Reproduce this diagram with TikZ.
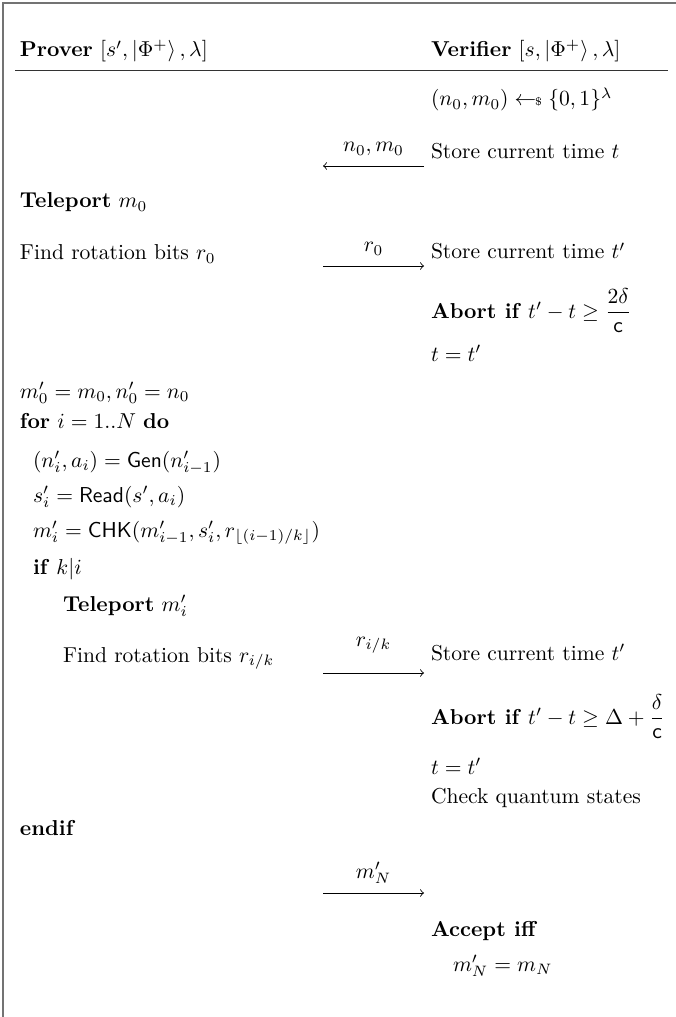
\documentclass[tikz,border=0pt]{standalone}
\usepackage{amsmath}
\begin{document}
\begin{tikzpicture}[x=0.4636pt,y=-0.4636pt,
  txt/.style={anchor=base west,inner sep=0pt,outer sep=0pt},
  lbl/.style={anchor=base,inner sep=0pt,outer sep=0pt},
  msg/.style={-to,line width=0.4pt},
  frame/.style={draw=black!55,line width=0.6pt},
  rulestyle/.style={draw=black!80,line width=0.45pt}]
\useasboundingbox (0,0) rectangle (675,1017);
% frame
\coordinate (fb) at (3,1030);
\coordinate (ftl) at (3,3);
\coordinate (fr) at (690,3);
\draw[frame] (fb) -- (ftl) -- (fr);
% header
\node[txt] (prover) at (20,57) {\textbf{Prover} $[s', \left|\Phi^{+}\right\rangle, \lambda]$};
\node[txt] (verifier) at (431,57) {\textbf{Verifier} $[s, \left|\Phi^{+}\right\rangle, \lambda]$};
\coordinate (rl) at (15,70);
\coordinate (rr) at (668,70);
\draw[rulestyle] (rl) -- (rr);
% verifier sampling
\node[txt] (sample) at (431,106) {$(n_0, m_0) \gets\!\!\mbox{\tiny\$}\;\{0,1\}^{\lambda}$};
% message 1
\node[txt] (store1) at (431,159) {Store current time $t$};
\coordinate (m1a) at (424,166);
\coordinate (m1b) at (323,166);
\draw[msg] (m1a) -- (m1b);
\node[lbl] (m1l) at (373.5,152) {$n_0, m_0$};
% teleport
\node[txt] (tele0) at (20,208) {\textbf{Teleport} $m_0$};
% message 2
\node[txt] (find0) at (20,260) {Find rotation bits $r_0$};
\node[txt] (store2) at (431,259) {Store current time $t'$};
\coordinate (m2a) at (323,266);
\coordinate (m2b) at (424,266);
\draw[msg] (m2a) -- (m2b);
\node[lbl] (m2l) at (373.5,252) {$r_0$};
\node[txt] (abort1) at (431,318) {\textbf{Abort if} $t' - t \geq \dfrac{2\delta}{\mathsf{c}}$};
\node[txt] (upd1) at (431,361) {$t = t'$};
% loop
\node[txt] (init) at (20,398) {$m'_0 = m_0, n'_0 = n_0$};
\node[txt] (for) at (20,428) {\textbf{for} $i = 1..N$ \textbf{do}};
\node[txt] (gen) at (33,467) {$(n'_i, a_i) = \mathsf{Gen}(n'_{i-1})$};
\node[txt] (read) at (33,502) {$s'_i = \mathsf{Read}(s', a_i)$};
\node[txt] (chk) at (33,537) {$m'_i = \mathsf{CHK}(m'_{i-1}, s'_i, r_{\lfloor (i-1)/k \rfloor})$};
\node[txt] (if) at (33,574) {\textbf{if} $k|i$};
\node[txt] (tele) at (63,611) {\textbf{Teleport} $m'_i$};
\node[txt] (find) at (63,662) {Find rotation bits $r_{i/k}$};
\node[txt] (store3) at (431,660) {Store current time $t'$};
\coordinate (m3a) at (323,673);
\coordinate (m3b) at (424,673);
\draw[msg] (m3a) -- (m3b);
\node[lbl] (m3l) at (373.5,646) {$r_{i/k}$};
\node[txt] (abort2) at (431,724) {\textbf{Abort if} $t' - t \geq \Delta + \dfrac{\delta}{\mathsf{c}}$};
\node[txt] (upd2) at (431,774) {$t = t'$};
\node[txt] (check) at (431,803) {Check quantum states};
\node[txt] (endif) at (20,835) {\textbf{endif}};
% final message
\coordinate (m4a) at (323,893);
\coordinate (m4b) at (424,893);
\draw[msg] (m4a) -- (m4b);
\node[lbl] (m4l) at (373.5,878) {$m'_N$};
\node[txt] (accept) at (431,936) {\textbf{Accept iff}};
\node[txt] (cond) at (453,971) {$m'_N = m_N$};
\end{tikzpicture}
\end{document}
